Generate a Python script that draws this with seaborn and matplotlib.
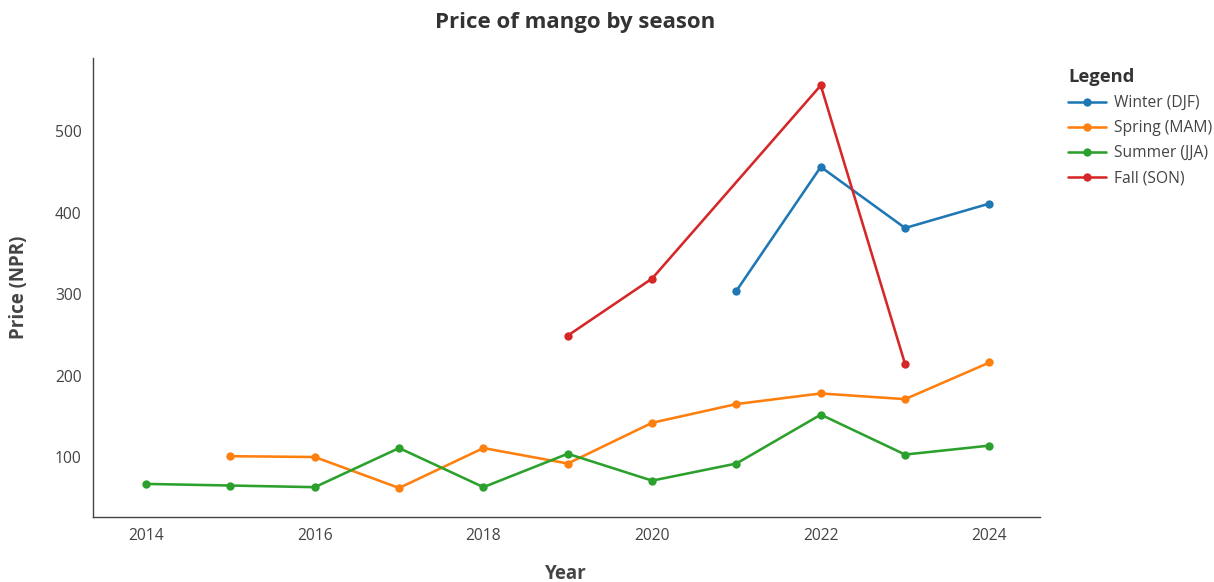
import pandas as pd
import matplotlib.pyplot as plt
import seaborn as sns

# values
winter_years = [2021, 2022, 2023, 2024]
winter_price = [304, 456, 381, 411]

spring_years = [2015, 2016, 2017, 2018, 2019, 2020, 2021, 2022, 2023, 2024]
spring_price = [101, 100, 62, 111, 92, 142, 165, 178, 171, 216]

summer_years = [2014, 2015, 2016, 2017, 2018, 2019, 2020, 2021, 2022, 2023, 2024]
summer_price = [67, 65, 63, 111, 63, 104, 71, 92, 152, 103, 114]

fall_years = [2019, 2020, 2022, 2023]
fall_price = [249, 319, 556, 214]

seasons = ['Winter (DJF)', 'Spring (MAM)', 'Summer (JJA)', 'Fall (SON)']
colors = ['#1f77b4', '#ff7f0e', '#2ca02c', '#d62728']
x_ticks = [2014, 2016, 2018, 2020, 2022, 2024]
y_ticks = [100, 200, 300, 400, 500]

frames = []
for name, yrs, vals in zip(seasons,
                           [winter_years, spring_years, summer_years, fall_years],
                           [winter_price, spring_price, summer_price, fall_price]):
    frames.append(pd.DataFrame({'Year': yrs, 'Price': vals, 'Season': name}))
df = pd.concat(frames, ignore_index=True)

sns.set_style('white')
plt.rcParams['font.family'] = ['Open Sans', 'DejaVu Sans']

fig = plt.figure(figsize=(12.14, 5.82), dpi=100)
ax = fig.add_axes([0.0766, 0.1117, 0.7801, 0.7886])

sns.lineplot(data=df, x='Year', y='Price', hue='Season', hue_order=seasons,
             palette=colors, marker='o', markersize=6, markeredgewidth=0,
             linewidth=1.85, ax=ax)

ax.set_xlim(2013.37, 2024.6)
ax.set_ylim(26.4, 589.6)
ax.set_xticks(x_ticks)
ax.set_yticks(y_ticks)
ax.tick_params(axis='both', direction='out', length=4.7, width=1, color='#444444',
               labelsize=11.25, labelcolor='#444444', pad=3.5)
for side in ['top', 'right']:
    ax.spines[side].set_visible(False)
for side in ['left', 'bottom']:
    ax.spines[side].set_color('#444444')
    ax.spines[side].set_linewidth(1)

ax.set_xlabel('Year', fontsize=13.5, fontweight='bold', color='#444444')
ax.set_ylabel('Price (NPR)', fontsize=13.5, fontweight='bold', color='#444444')
ax.xaxis.set_label_coords(0.4995, -0.102)
ax.yaxis.set_label_coords(-0.0675, 0.501)
fig.text(0.4736, 0.962, 'Price of mango by season', ha='center', va='center',
         fontsize=16, fontweight='bold', color='#333333')

leg = ax.legend(title='Legend', loc='upper left', bbox_to_anchor=(1.015, 1.008),
                frameon=False, fontsize=11.25, handlelength=2.4, handletextpad=0.5,
                labelspacing=0.57)
plt.setp(leg.get_title(), fontweight='bold', fontsize=13.2, color='#333333')
for t in leg.get_texts():
    t.set_color('#444444')
leg._legend_box.align = 'left'

fig.savefig('out.png', dpi=100)
